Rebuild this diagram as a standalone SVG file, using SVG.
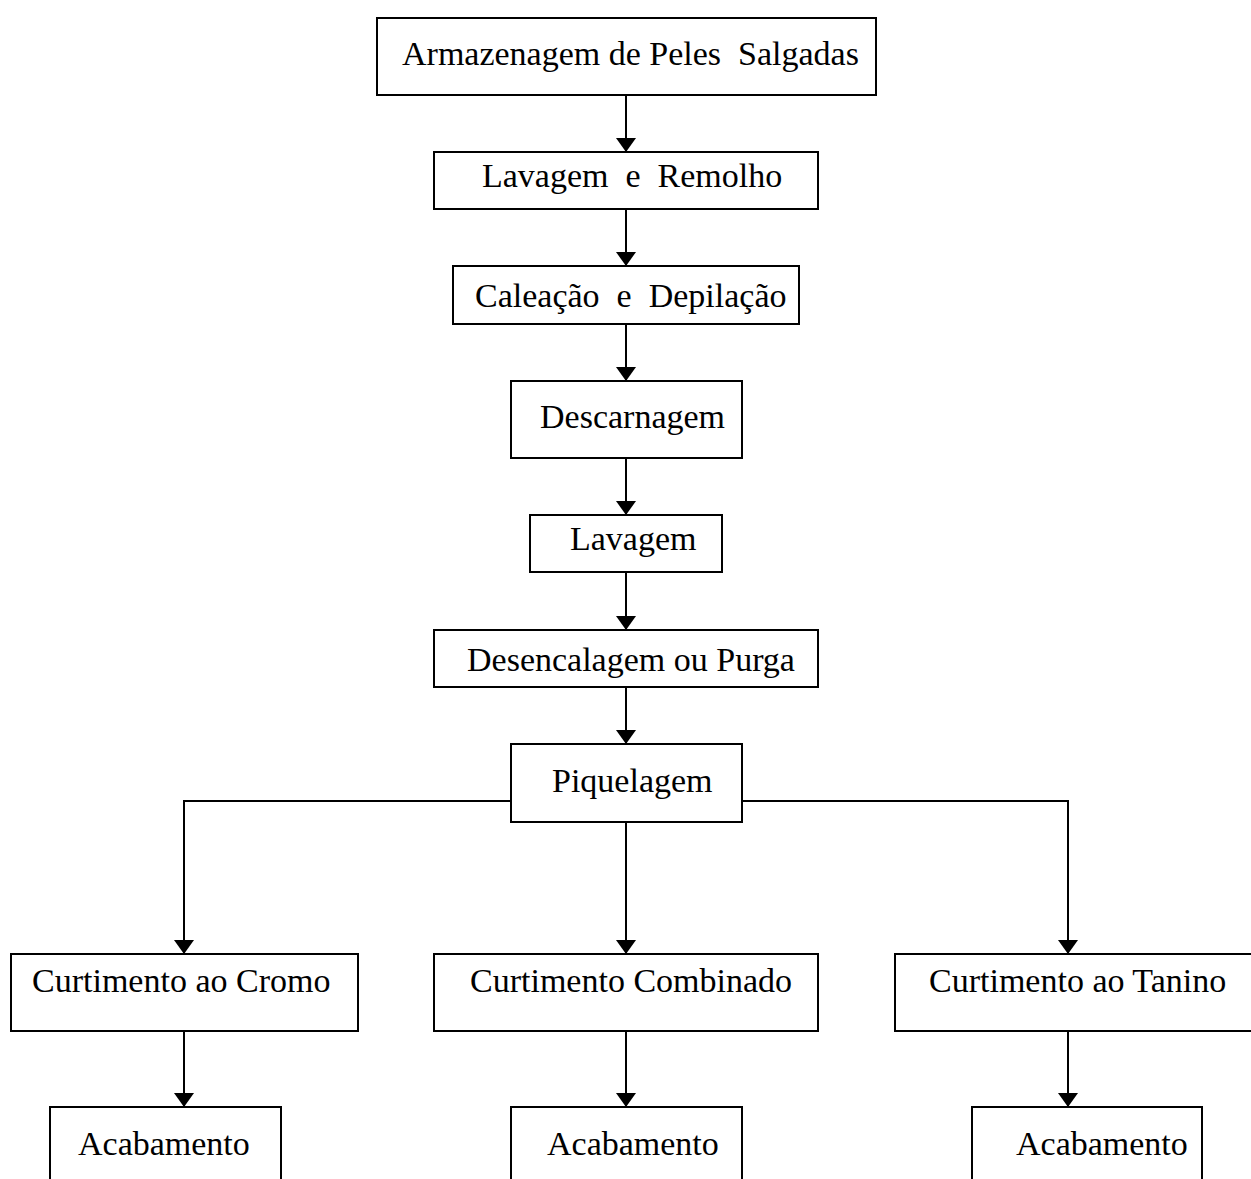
<svg xmlns="http://www.w3.org/2000/svg" width="1251" height="1179" viewBox="0 0 1251 1179">
<style>
.box{fill:#fff;stroke:#000;stroke-width:2}
.lbl{font-family:"Liberation Serif","Times New Roman",serif;font-size:34px;fill:#000}
.con{fill:none;stroke:#000;stroke-width:2}
</style>
<defs>
<marker id="arr" markerUnits="userSpaceOnUse" viewBox="0 0 14 20" refX="14" refY="10" markerWidth="14" markerHeight="20" orient="auto">
<path d="M0,0 L14,10 L0,20 z" fill="#000"/>
</marker>
</defs>
<rect width="1251" height="1179" fill="#fff"/>
<g id="connectors">
<path class="con" d="M626,95 V152" marker-end="url(#arr)"/>
<path class="con" d="M626,209 V266" marker-end="url(#arr)"/>
<path class="con" d="M626,324 V381" marker-end="url(#arr)"/>
<path class="con" d="M626,458 V515" marker-end="url(#arr)"/>
<path class="con" d="M626,572 V630" marker-end="url(#arr)"/>
<path class="con" d="M626,687 V744" marker-end="url(#arr)"/>
<path class="con" d="M626,822 V954" marker-end="url(#arr)"/>
<path class="con" d="M511,801 H184 V954" marker-end="url(#arr)"/>
<path class="con" d="M742,801 H1068 V954" marker-end="url(#arr)"/>
<path class="con" d="M184,1031 V1107" marker-end="url(#arr)"/>
<path class="con" d="M626,1031 V1107" marker-end="url(#arr)"/>
<path class="con" d="M1068,1031 V1107" marker-end="url(#arr)"/>
</g>
<g id="n1"><rect class="box" x="377" y="18" width="499" height="77"/><text class="lbl" x="402" y="65" xml:space="preserve">Armazenagem de Peles  Salgadas</text></g>
<g id="n2"><rect class="box" x="434" y="152" width="384" height="57"/><text class="lbl" x="482" y="187" xml:space="preserve">Lavagem  e  Remolho</text></g>
<g id="n3"><rect class="box" x="453" y="266" width="346" height="58"/><text class="lbl" x="475" y="307" xml:space="preserve">Caleação  e  Depilação</text></g>
<g id="n4"><rect class="box" x="511" y="381" width="231" height="77"/><text class="lbl" x="540" y="428">Descarnagem</text></g>
<g id="n5"><rect class="box" x="530" y="515" width="192" height="57"/><text class="lbl" x="570" y="550">Lavagem</text></g>
<g id="n6"><rect class="box" x="434" y="630" width="384" height="57"/><text class="lbl" x="467" y="671">Desencalagem ou Purga</text></g>
<g id="n7"><rect class="box" x="511" y="744" width="231" height="78"/><text class="lbl" x="552" y="792">Piquelagem</text></g>
<g id="n8"><rect class="box" x="11" y="954" width="347" height="77"/><text class="lbl" x="32" y="992">Curtimento ao Cromo</text></g>
<g id="n9"><rect class="box" x="434" y="954" width="384" height="77"/><text class="lbl" x="470" y="992">Curtimento Combinado</text></g>
<g id="n10"><rect class="box" x="895" y="954" width="370" height="77"/><text class="lbl" x="929" y="992">Curtimento ao Tanino</text></g>
<g id="n11"><rect class="box" x="50" y="1107" width="231" height="90"/><text class="lbl" x="78" y="1155">Acabamento</text></g>
<g id="n12"><rect class="box" x="511" y="1107" width="231" height="90"/><text class="lbl" x="547" y="1155">Acabamento</text></g>
<g id="n13"><rect class="box" x="972" y="1107" width="230" height="90"/><text class="lbl" x="1016" y="1155">Acabamento</text></g>
</svg>
